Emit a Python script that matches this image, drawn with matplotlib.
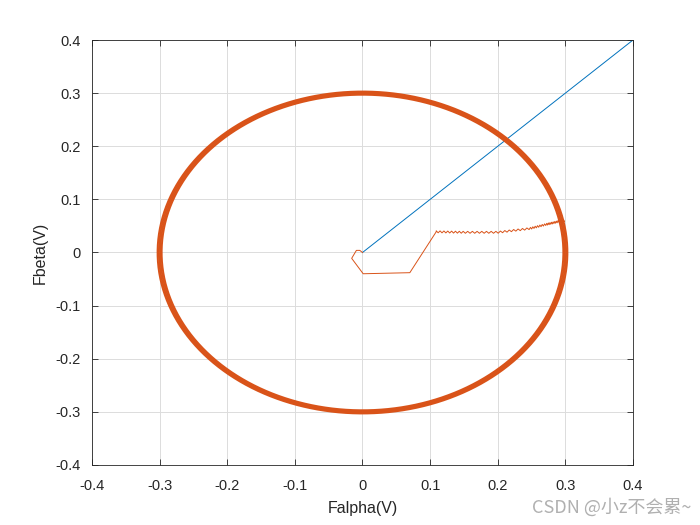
import numpy as np
import matplotlib
matplotlib.use('Agg')
import matplotlib.pyplot as plt

plt.rcParams['font.family'] = ['Liberation Sans', 'DejaVu Sans']

BLUE = '#0072BD'
ORANGE = '#D95319'

# reference line (blue)
ref_x = [0.0, 0.4]
ref_y = [0.0, 0.4]

# start-up transient (orange)
start_x = [0.0, -0.004, -0.009, -0.016, 0.001, 0.070, 0.109]
start_y = [0.0, 0.004, 0.004, -0.011, -0.040, -0.038, 0.039]

# envelope of the small ripple that leads onto the circle
ripple_x = [0.109, 0.150, 0.200, 0.247, 0.272, 0.289]
ripple_y = [0.039, 0.038, 0.038, 0.045, 0.053, 0.058]
ripple_teeth = 36
ripple_amp = 0.0018

# steady state: several laps of a ~0.3 V circle
lap_radius = [0.297, 0.299, 0.301, 0.303]
lap_start_deg = 11.3

fig = plt.figure(figsize=(7, 5.25), dpi=100)
ax = fig.add_axes([0.1314, 0.1143, 0.7729, 0.8095])

ax.plot(ref_x, ref_y, color=BLUE, lw=0.7)

# transient + ripple
rx = np.interp(np.linspace(0, 1, 2 * ripple_teeth + 1),
               np.linspace(0, 1, len(ripple_x)), ripple_x)
ry = np.interp(rx, ripple_x, ripple_y)
ry = ry + ripple_amp * np.where(np.arange(len(ry)) % 2 == 0, 1, -1)
tx = list(start_x) + list(rx)
ty = list(start_y) + list(ry)
ax.plot(tx, ty, color=ORANGE, lw=0.7)

# circle laps
for r in lap_radius:
    th = np.deg2rad(np.linspace(lap_start_deg, lap_start_deg + 360, 721))
    ax.plot(r * np.cos(th), r * np.sin(th), color=ORANGE, lw=1.4)

ax.set_xlim(-0.4, 0.4)
ax.set_ylim(-0.4, 0.4)
ticks = np.round(np.arange(-0.4, 0.41, 0.1), 1)
labels = ['0' if abs(t) < 1e-9 else '%g' % t for t in ticks]
ax.set_xticks(ticks)
ax.set_yticks(ticks)
ax.set_xticklabels(labels)
ax.set_yticklabels(labels)
ax.tick_params(direction='in', top=True, right=True, labelsize=10.5,
               length=4, width=0.6, colors='#262626')
ax.tick_params(axis='x', pad=10)
ax.tick_params(axis='y', pad=8)
ax.grid(True, color='#dcdcdc', lw=0.7)
ax.set_axisbelow(True)
for s in ax.spines.values():
    s.set_linewidth(0.6)
    s.set_color('#262626')

ax.set_xlabel('Falpha(V)', fontsize=11.5, color='#262626', labelpad=6)
ax.set_ylabel('Fbeta(V)', fontsize=11.5, color='#262626', labelpad=6)

fig.text(0.987, 0.016, 'CSDN @小z不会累~', ha='right', va='bottom',
         fontsize=13, color='#b0b0b0',
         family=['Noto Sans CJK SC', 'DejaVu Sans'])

fig.savefig('out.png', dpi=100)
